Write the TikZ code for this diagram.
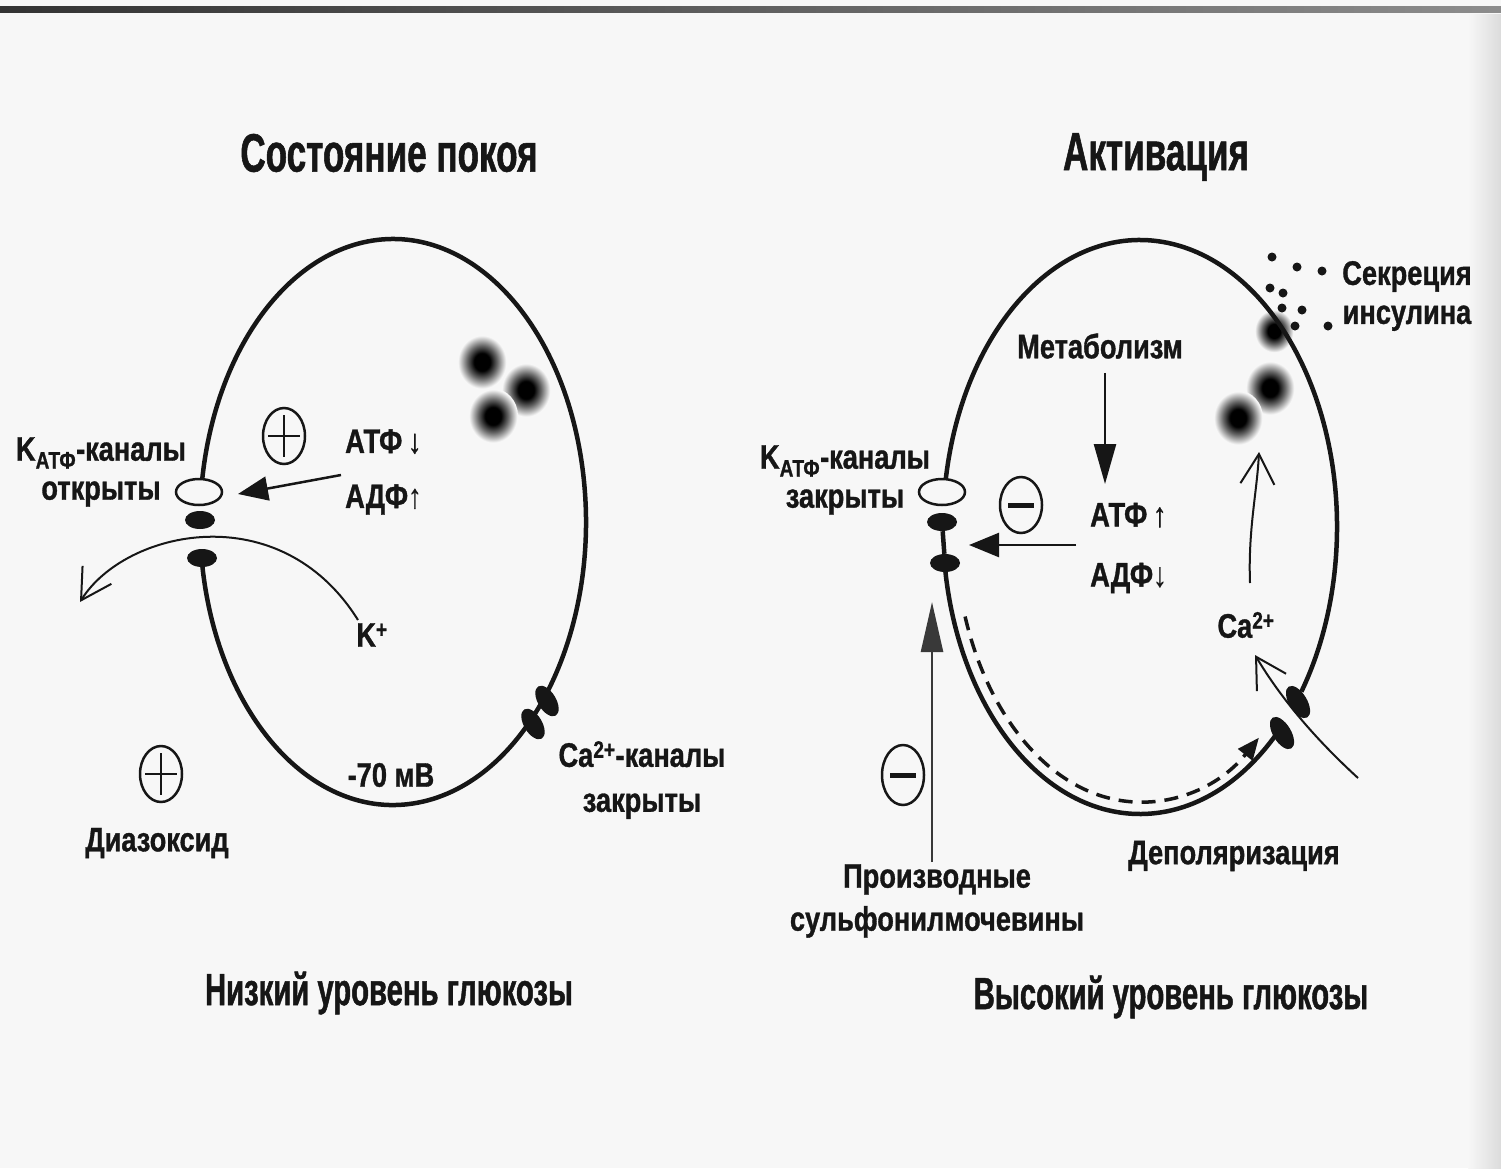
\documentclass[tikz,border=0pt]{standalone}
\usepackage{fontspec}
\setmainfont{Liberation Sans}
\newfontfamily\ttlf{Liberation Sans}[FakeStretch=0.65, BoldFeatures={FakeBold=1}]
\newfontfamily\lblf{Liberation Sans}[FakeStretch=0.8, BoldFeatures={FakeBold=1}]
\usetikzlibrary{arrows.meta,shapes.geometric,calc}
\definecolor{paper}{RGB}{247,247,247}
\definecolor{ink}{RGB}{22,22,22}
\pgfdeclareradialshading{granule}{\pgfpoint{0bp}{0bp}}{color(0bp)=(black); color(8bp)=(black); color(15bp)=(black!60); color(24bp)=(paper); color(50bp)=(paper)}
\tikzset{
  membrane/.style={line width=4.5pt, draw=ink},
  lbl/.style={font=\lblf\bfseries\fontsize{34}{40}\selectfont, text=ink, inner sep=0pt, align=center},
  ttl/.style={font=\ttlf\bfseries\fontsize{54}{60}\selectfont, text=ink, inner sep=0pt},
  sub/.style={font=\ttlf\bfseries\fontsize{45}{50}\selectfont, text=ink, inner sep=0pt},
  chanopen/.style={ellipse, draw=ink, fill=paper, line width=2.5pt, minimum width=46pt, minimum height=26pt, inner sep=0pt},
  chanblk/.style={ellipse, fill=ink, minimum width=30pt, minimum height=18pt, inner sep=0pt},
  sign/.style={ellipse, draw=ink, line width=2.5pt, minimum width=42pt, minimum height=56pt, inner sep=0pt},
  solid arrow/.style={-{Triangle[length=30pt,width=24pt]}, line width=2.5pt, draw=ink},
  thin arrow/.style={-{Straight Barb[length=30pt,width=34pt,line width=2pt]}, line width=2pt, draw=ink},
  dot/.style={circle, fill=ink, minimum size=9pt, inner sep=0pt},
}
\newcommand{\granuleat}[3][25]{\shade[shading=granule] (#2,#3) ellipse[x radius=#1, y radius=#1*1.1];}
\newcommand{\arr}{{\mdseries\fontsize{30}{30}\selectfont}}
\begin{document}
\begin{tikzpicture}[x=1pt,y=-1pt]
\useasboundingbox (0,0) rectangle (1501,1168);
\fill[paper] (0,0) rectangle (1501,1168);
% page edges
\shade[left color=black!80, right color=black!45] (0,6) rectangle (1501,12);
\shade[left color=paper, right color=black!14] (1468,14) rectangle (1501,1168);

% titles
\node[ttl] (tL) at (389,153) {Состояние покоя};
\node[ttl] (tR) at (1156,157) {Активация};
\node[sub] (bL) at (389,993) {Низкий уровень глюкозы};
\node[sub] (bR) at (1171,997) {Высокий уровень глюкозы};

% ---------- resting cell ----------
\coordinate (cL) at (393,522);
\granuleat{482}{362}
\granuleat{526}{390}
\granuleat{493}{416}
\draw[membrane] ($(cL)+(171:193 and 283)$) arc[start angle=171, end angle=-171.3, x radius=193, y radius=283];
\node[chanopen] (kL) at (199,492) {};
\node[chanblk] (kL1) at (200,520) {};
\node[chanblk] (kL2) at (202,558) {};
\node[chanblk, rotate=-59, minimum width=34pt] (caL1) at (547,701) {};
\node[chanblk, rotate=-59, minimum width=34pt] (caL2) at (533,724) {};

\node[lbl] (katpL) at (101,472) {K\textsubscript{АТФ}-каналы\\[-1pt]открыты};
\node[lbl, anchor=west, align=left, font=\lblf\bfseries\fontsize{34}{55}\selectfont] (atpL) at (345,472) {АТФ\,\arr↓\\АДФ\arr↑};
\node[sign] (pL) at (284,436) {};
\draw[line width=2.5pt, ink] ($(pL)+(-16,0)$) -- ($(pL)+(16,0)$) ($(pL)+(0,-21)$) -- ($(pL)+(0,21)$);
\coordinate (tipL) at (238,494);
\draw[solid arrow] ($(atpL.west)+(-4,3)$) -- (tipL);

\node[lbl] (kp) at (372,635) {K\textsuperscript{+}};
\draw[thin arrow] (358,620) .. controls (280,495) and (125,530) .. (80,602);
\node[lbl] (mv) at (391,775) {-70 мВ};
\node[lbl, font=\lblf\bfseries\fontsize{34}{45}\selectfont] (caLbl) at (642,780) {Ca\textsuperscript{2+}-каналы\\закрыты};
\node[sign] (pD) at (161,774) {};
\draw[line width=2.5pt, ink] ($(pD)+(-16,0)$) -- ($(pD)+(16,0)$) ($(pD)+(0,-21)$) -- ($(pD)+(0,21)$);
\node[lbl] (diaz) at (157,843) {Диазоксид};

% ---------- activated cell ----------
\coordinate (cR) at (1140,527);
\granuleat{1270}{388}
\granuleat{1238}{418}
\granuleat[20]{1274}{331}
\foreach \p in {(1272,257),(1297,267),(1322,271),(1270,288),(1283,293),(1282,308),(1302,310),(1295,326),(1328,326)}
  \node[dot] at \p {};
\draw[membrane] ($(cR)+(-170.4:197 and 287)$) arc[start angle=-170.4, end angle=35, x radius=197, y radius=287];
\draw[membrane] ($(cR)+(46:197 and 287)$) arc[start angle=46, end angle=171.2, x radius=197, y radius=287];
\node[chanopen] (kR) at (942,492) {};
\node[chanblk] (kR1) at (942,522) {};
\node[chanblk] (kR2) at (945,563) {};
\draw[membrane] (kR1) -- (kR2);
\node[chanblk, rotate=-59, minimum width=36pt] (caR1) at (1298,702) {};
\node[chanblk, rotate=-59, minimum width=36pt] (caR2) at (1282,733) {};

\node[lbl] (sec) at (1407,296) {Секреция\\[-1pt]инсулина};
\node[lbl] (met) at (1100,346) {Метаболизм};
\coordinate (metEnd) at (1105,484);
\draw[solid arrow, -{Triangle[length=40pt,width=22pt]}] ($(met.south)+(5,14)$) -- (metEnd);

\node[lbl] (katpR) at (845,480) {K\textsubscript{АТФ}-каналы\\[-1pt]закрыты};
\node[lbl, anchor=west, align=left, font=\lblf\bfseries\fontsize{34}{60}\selectfont] (atpR) at (1090,548) {АТФ\,\arr↑\\АДФ\arr↓};
\coordinate (tipR) at (969,545);
\draw[solid arrow] (atpR.west |- tipR) ++(-14,0) -- (tipR);
\node[sign] (mK) at (1021,505) {};
\draw[line width=5pt, ink] ($(mK)+(-13,0)$) -- ($(mK)+(13,0)$);

\node[lbl, font=\lblf\bfseries\fontsize{34}{43}\selectfont] (sulf) at (937,901) {Производные\\сульфонилмочевины};
\coordinate (tipS) at (932,602);
\draw[line width=2.5pt, ink!85, -{Triangle[length=50pt,width=22pt]}] (932,862) -- (tipS);
\node[sign, minimum height=60pt] (mS) at (903,775) {};
\draw[line width=5pt, ink] ($(mS)+(-13,0)$) -- ($(mS)+(13,0)$);

\draw[line width=3.5pt, ink, dash pattern=on 14pt off 9pt, -{Triangle[length=22pt,width=18pt]}]
  ($(cR)+(161:185 and 275)$) arc[start angle=161, end angle=50, x radius=185, y radius=275];
\node[lbl] (dep) at (1234,856) {Деполяризация};

\node[lbl] (ca) at (1246,625) {Ca\textsuperscript{2+}};
\draw[thin arrow] (1358,778) .. controls (1322,745) and (1285,705) .. (1255,655);
\draw[thin arrow] (1250,583) .. controls (1248,530) and (1257,492) .. (1259,452);
\end{tikzpicture}
\end{document}
